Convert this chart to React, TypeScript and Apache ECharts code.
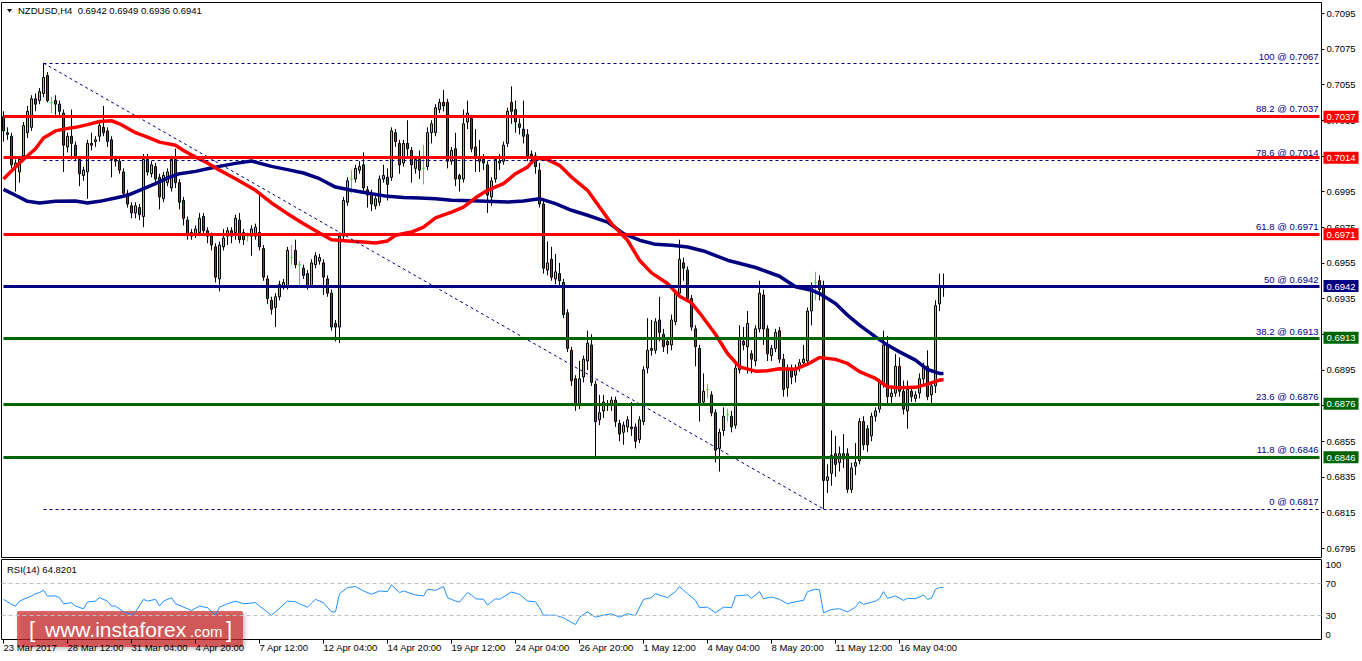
import React, { useEffect, useRef } from 'react';
import * as echarts from 'echarts';

// ---------------- data ----------------
const symbolTitle = 'NZDUSD,H4\u00a0 0.6942 0.6949 0.6936 0.6941';
const rsiTitle = 'RSI(14) 64.8201';
const firstTickLabel = '23 Mar 2017';
const watermarkParts = ['[', 'www.instaforex', '.com', ']'];

// H4 candles [open, close, low, high] in 1/10000 (e.g. 7037 = 0.7037)
const candles: number[][] = [
  [7037,7029,7023,7040],[7028,7027,7024,7031],[7026,7010,7008,7028],[7009,7011,6995,7013],[7006,7013,7000,7015],
  [7015,7032,7013,7034],[7028,7040,7025,7043],[7031,7047,7029,7049],[7047,7044,7040,7050],[7046,7051,7044,7053],
  [7050,7059,7048,7067],[7060,7046,7045,7062],[7045,7045,7039,7048],[7046,7044,7038,7049],[7044,7040,7038,7046],
  [7039,7021,7006,7041],[7020,7026,7017,7028],[7026,7022,7013,7041],[7021,7015,7012,7023],[7013,7005,6998,7015],
  [7004,7007,7001,7009],[7006,7022,6991,7024],[7022,7021,7018,7028],[7023,7024,7020,7026],[7026,7032,7023,7034],
  [7031,7028,7026,7043],[7029,7023,7020,7031],[7024,7013,7003,7026],[7013,7012,7009,7015],[7012,7007,7005,7014],
  [7006,6994,6992,7008],[6994,6988,6986,6996],[6987,6983,6980,6989],[6983,6987,6980,6989],[6986,6982,6979,6988],
  [6981,7013,6975,7016],[7013,7006,7004,7016],[7005,7010,7003,7012],[7009,7002,7000,7011],[7003,6992,6985,7005],
  [6991,7004,6989,7006],[7000,7006,6998,7008],[6997,7013,6995,7015],[7013,7000,6997,7019],[7000,6989,6985,7002],
  [6990,6980,6976,6992],[6979,6971,6968,6981],[6972,6970,6968,6974],[6971,6974,6969,6976],[6972,6980,6970,6983],
  [6981,6973,6970,6983],[6973,6970,6966,6975],[6970,6965,6962,6972],[6964,6947,6944,6966],[6946,6965,6939,6967],
  [6964,6969,6962,6974],[6970,6973,6965,6975],[6973,6970,6966,6975],[6972,6980,6968,6982],[6979,6968,6966,6983],
  [6972,6968,6965,6974],[6970,6970,6967,6972],[6970,6974,6959,6976],[6970,6975,6968,6977],[6972,6964,6962,6994],
  [6963,6947,6945,6965],[6946,6935,6932,6948],[6934,6929,6926,6936],[6930,6936,6919,6938],[6936,6943,6934,6945],
  [6942,6944,6940,6946],[6942,6962,6940,6964],[6958,6958,6954,6965],[6962,6954,6952,6968],[6954,6954,6942,6956],
  [6952,6948,6946,6954],[6949,6942,6940,6951],[6942,6955,6941,6957],[6954,6959,6952,6961],[6956,6958,6954,6960],
  [6955,6947,6937,6957],[6946,6938,6936,6948],[6938,6919,6917,6940],[6921,6919,6911,6923],[6919,6970,6910,6972],
  [6970,6990,6968,6992],[6989,7001,6987,7003],[7002,7002,6994,7007],[7002,7008,7000,7010],[7007,7009,7005,7012],
  [7010,6997,6995,7017],[6996,6993,6986,6998],[6994,6988,6984,6996],[6987,6991,6985,6993],[6989,7002,6987,7004],
  [7002,7004,7000,7010],[7003,6999,6990,7008],[7003,7029,7001,7031],[7028,7023,7020,7030],[7022,7010,7005,7024],
  [7011,7022,7009,7024],[7022,7019,7015,7035],[7018,7010,7000,7020],[7008,7013,7005,7015],[7013,7007,7002,7018],
  [7008,7008,6999,7021],[7009,7028,7007,7031],[7028,7033,7022,7035],[7028,7042,7026,7044],[7041,7045,7039,7047],
  [7045,7043,7040,7052],[7045,7012,7008,7047],[7012,7018,7010,7020],[7019,7002,6998,7028],[7004,7002,6995,7005],
  [7002,7033,7000,7041],[7034,7039,7030,7046],[7036,7019,7017,7038],[7020,7014,7006,7030],[7014,7012,7006,7024],
  [7013,7011,7007,7016],[7010,6993,6983,7012],[6992,7001,6987,7003],[7002,7013,7000,7015],[7011,7012,7007,7016],
  [7012,7021,7010,7023],[7022,7040,7020,7042],[7045,7040,7033,7054],[7041,7034,7028,7046],[7033,7031,7027,7036],
  [7030,7026,7022,7046],[7027,7015,7012,7030],[7016,7015,7012,7018],[7015,7009,7005,7017],[7007,6988,6986,7011],
  [6988,6952,6949,6990],[6951,6955,6948,6967],[6957,6947,6945,6964],[6946,6950,6943,6960],[6949,6945,6942,6955],
  [6944,6926,6924,6946],[6927,6907,6905,6929],[6906,6889,6886,6908],[6890,6875,6872,6892],[6875,6890,6873,6900],
  [6891,6901,6888,6903],[6900,6910,6895,6917],[6909,6888,6886,6915],[6887,6866,6846,6889],[6867,6871,6864,6881],
  [6872,6877,6868,6881],[6876,6875,6872,6878],[6875,6878,6872,6880],[6878,6866,6863,6880],[6865,6859,6855,6867],
  [6860,6864,6853,6866],[6863,6867,6860,6869],[6863,6862,6858,6877],[6863,6855,6851,6865],[6856,6867,6854,6869],
  [6866,6895,6864,6897],[6896,6906,6893,6924],[6907,6906,6903,6923],[6906,6922,6904,6924],[6923,6916,6911,6936],
  [6915,6908,6905,6918],[6911,6909,6904,6913],[6909,6923,6906,6926],[6922,6938,6920,6940],[6938,6957,6936,6968],
  [6955,6952,6945,6958],[6951,6935,6933,6953],[6935,6919,6917,6937],[6918,6908,6897,6920],[6907,6876,6866,6909],
  [6877,6883,6876,6893],[6884,6884,6879,6887],[6881,6871,6869,6883],[6871,6850,6843,6873],[6851,6860,6838,6862],
  [6861,6869,6858,6874],[6870,6870,6866,6873],[6869,6863,6860,6872],[6864,6896,6862,6898],[6895,6912,6893,6920],
  [6911,6909,6906,6919],[6908,6921,6893,6928],[6904,6901,6893,6906],[6900,6918,6897,6920],[6918,6938,6916,6945],
  [6937,6918,6909,6940],[6918,6904,6900,6920],[6903,6907,6900,6909],[6907,6916,6905,6918],[6917,6901,6899,6919],
  [6901,6884,6880,6904],[6885,6896,6880,6898],[6896,6891,6887,6898],[6892,6896,6888,6898],[6897,6899,6894,6901],
  [6899,6901,6897,6909],[6900,6928,6898,6930],[6928,6942,6920,6944],[6944,6944,6934,6950],[6945,6940,6934,6948],
  [6942,6833,6817,6945],[6833,6835,6826,6842],[6837,6847,6830,6861],[6848,6842,6835,6858],[6843,6848,6838,6852],
  [6848,6845,6840,6859],[6848,6828,6826,6851],[6828,6840,6826,6843],[6841,6843,6836,6854],[6844,6866,6842,6868],
  [6866,6853,6850,6869],[6862,6853,6849,6864],[6858,6869,6855,6871],[6869,6872,6866,6874],[6873,6888,6871,6890],
  [6888,6909,6885,6917],[6909,6880,6876,6914],[6880,6882,6876,6886],[6882,6897,6880,6904],[6897,6883,6880,6902],
  [6883,6873,6870,6889],[6872,6884,6862,6889],[6883,6880,6877,6886],[6879,6881,6877,6883],[6882,6890,6879,6893],
  [6890,6897,6887,6899],[6897,6880,6878,6906],[6881,6886,6876,6888],[6886,6931,6882,6934],[6932,6942,6928,6949],
  [6942,6941,6936,6949],
];
const dojiBars = [12, 61, 72, 74, 87, 105, 176, 181, 203];

// moving averages: [bar index, value in 1/10000]
const fastMA: number[][] = [
  [0,7002],[4,7011],[8,7019],[10,7025],[13,7029],[15,7030],[18,7031],[21,7032.5],[24,7034.3],[27,7034.7],
  [29,7033],[33,7028],[36,7025.5],[39,7022.7],[43,7021],[45,7018],[48,7014.3],[51,7011],[54,7007],[58,7002.2],
  [63,6995.7],[67,6988.6],[71,6982.6],[75,6977],[79,6971.8],[82,6968],[87,6967.1],[90,6966.7],[93,6966.2],[96,6967.3],
  [98,6970.5],[102,6972.3],[105,6975.1],[108,6980.2],[112,6983.5],[115,6986.3],[118,6991.5],[121,6995.7],[125,6999.4],[128,7005],
  [131,7008.7],[133,7013.8],[136,7012.9],[139,7009.7],[142,7003.1],[146,6995.7],[149,6986.3],[152,6977],[156,6967.7],[159,6956.5],
  [162,6949.4],[166,6943.4],[169,6936.3],[172,6932.6],[174,6927],[176,6921],[178,6915],[181,6904.2],[184,6896.7],[188,6894.3],
  [191,6894.5],[194,6895.6],[198,6895.4],[201,6898.2],[204,6902],[208,6900.9],[211,6898.6],[214,6894],[218,6890.2],[221,6885.5],
  [224,6885],[228,6885.2],[231,6887],[234,6889.3],[235,6889.5],
];
const slowMA: number[][] = [
  [0,6996.2],[3,6992.9],[6,6989.5],[9,6988.6],[13,6989.5],[18,6989.7],[21,6988.6],[24,6989.5],[28,6991.4],[31,6992.9],
  [34,6995.7],[38,6999.4],[41,7002.6],[44,7005],[48,7006.3],[51,7007.8],[54,7009.1],[58,7010.8],[62,7012.1],[67,7009.1],
  [71,7007.3],[75,7005.4],[79,7002.2],[83,6997.5],[87,6995.7],[92,6993.8],[96,6992.3],[100,6991.6],[104,6991.4],[108,6991],
  [112,6990.1],[117,6989.8],[126,6989.1],[130,6989.7],[134,6991],[138,6988.2],[142,6984.5],[146,6981.7],[151,6977.9],[155,6971.4],
  [159,6967.7],[163,6965.4],[167,6964.9],[171,6963.9],[175,6961.7],[181,6956.5],[188,6952.4],[194,6947.5],[198,6941.6],[202,6939.7],
  [204,6937.8],[208,6932.2],[211,6925.7],[214,6920.1],[218,6913.5],[221,6908.9],[224,6905.1],[228,6900.5],[231,6895.2],[234,6893],
  [235,6893],
];

// RSI(14): [bar index, value]
const rsiPoints: number[][] = [
  [0,50.2],[2,43.9],[3,41.8],[4,48],[6,52.3],[7,54.4],[8,57.3],[9,58.6],[10,61.5],[11,54.4],
  [13,54.4],[14,52.3],[15,44.7],[17,46],[18,41.8],[20,38.4],[21,46.8],[23,48],[24,52.3],[26,48],
  [27,41.8],[28,41.8],[30,34.6],[32,31.3],[33,34.6],[35,50.2],[36,48],[38,50.2],[39,41.8],[40,48],
  [42,52.3],[43,44.7],[45,40.5],[47,36.3],[49,41.8],[51,39.7],[53,30.4],[54,40.5],[56,44.7],[58,48],
  [60,44.7],[63,46],[64,41.8],[67,30.4],[68,34.6],[71,48],[73,47.2],[74,44.7],[76,40.5],[78,50.2],
  [80,46],[82,34.6],[83,34.6],[84,57.3],[86,64.9],[88,66.2],[90,60.7],[92,56.5],[94,60.7],[96,59.9],
  [97,68.3],[99,58.6],[100,60.7],[103,55.7],[105,54.4],[106,62.8],[108,61.5],[110,66.2],[111,52.3],[113,48],
  [114,46.8],[116,58.6],[117,55.7],[118,51],[120,50.2],[121,43],[123,51],[124,50.2],[127,59.4],[129,56.5],
  [131,48],[133,47.2],[134,39.7],[135,30.4],[138,30.4],[140,27.1],[143,18.6],[144,27.9],[146,34.6],[148,27.9],
  [150,30.4],[152,32.1],[154,27.9],[156,32.1],[158,30],[160,50.2],[162,52.3],[163,57.3],[166,52.3],[168,59.9],
  [169,66.2],[171,57.3],[173,48.9],[174,39.7],[176,40.5],[178,33.4],[180,40.5],[182,39.7],[183,54.4],[186,55.7],
  [187,51.5],[189,59.9],[190,51],[192,53.1],[194,50.2],[196,44.7],[198,47.2],[200,48.9],[201,59.9],[203,62.8],
  [204,62],[205,33.4],[207,37.6],[209,38.4],[211,34.6],[213,40.5],[214,47.2],[215,43.9],[218,48],[219,51],
  [220,59.9],[221,51.5],[223,54.4],[225,48.9],[226,51.5],[228,51],[230,55.7],[231,50.2],[232,51.5],[233,62.8],
  [234,64.9],[235,64.8],
];
const rsiLevels = [70, 30];
const rsiTicks = [0, 30, 70, 100];

// horizontal support / resistance levels
const levelPrices = [0.7037, 0.7014, 0.6971, 0.6942, 0.6913, 0.6876, 0.6846];
// fibonacci retracement (labels, displayed price, and where the dotted level sits)
const fibPercents = ['100', '88.2', '78.6', '61.8', '50', '38.2', '23.6', '11.8', '0'];
const fibPrices = [0.7067, 0.7037, 0.7014, 0.6971, 0.6942, 0.6913, 0.6876, 0.6846, 0.6817];
const fibLineLevels = [0.7067, 0.70375, 0.70128, 0.69715, 0.6942, 0.69125, 0.6876, 0.68465, 0.6817];
const fibHighBar = 10;
const fibLowBar = 205;

const priceTicks = [0.7095, 0.7075, 0.7055, 0.7035, 0.7015, 0.6995, 0.6975, 0.6955, 0.6935, 0.6915,
  0.6895, 0.6875, 0.6855, 0.6835, 0.6815, 0.6795];
const priceMin = 0.67898;
const priceMax = 0.7101;

const startTimeUTC = Date.UTC(2017, 2, 23, 20);
const totalSlots = 330;
const labelEvery = 16;
const monthNames = ['Jan','Feb','Mar','Apr','May','Jun','Jul','Aug','Sep','Oct','Nov','Dec'];

// ---------------- styles ----------------
const FONT = '"Liberation Sans", Arial, sans-serif';
const FS = 9.5;
const RED = '#FF0000';
const NAVY = '#000080';
const GREEN = '#006400';
const levelColors = [RED, RED, RED, NAVY, GREEN, GREEN, GREEN];

function buildCategories(): string[] {
  const out: string[] = [];
  let t = startTimeUTC;
  while (out.length < totalSlots) {
    const d = new Date(t);
    const wd = d.getUTCDay();
    if (wd !== 0 && wd !== 6) {
      const hh = String(d.getUTCHours()).padStart(2, '0');
      out.push(`${d.getUTCDate()} ${monthNames[d.getUTCMonth()]} ${hh}:00`);
    }
    t += 4 * 3600 * 1000;
  }
  return out;
}

function buildOption() {
  const categories = buildCategories();
  const lastBar = candles.length - 1;
  const lastSlot = totalSlots - 1;
  const showTick = (idx: number) => idx % labelEvery === 0 && idx <= lastBar;

  const candleItems = candles.map((c, i) => {
    const v = c.map((x) => x / 10000);
    if (dojiBars.includes(i)) {
      return {
        value: v,
        itemStyle: { color: '#00FF00', color0: '#00FF00', borderColor: '#00FF00', borderColor0: '#00FF00', borderColorDoji: '#00FF00' },
      };
    }
    return v;
  });

  const fibLineStyle = { color: NAVY, width: 1, type: [3, 3] as any };
  const markData: any[] = [];
  fibLineLevels.forEach((p, k) => {
    markData.push([
      {
        coord: [fibHighBar, p],
        lineStyle: fibLineStyle,
        label: {
          show: true,
          position: 'insideEndTop',
          formatter: `${fibPercents[k]} @ ${fibPrices[k].toFixed(4)}`,
          color: NAVY,
          fontSize: FS,
          fontFamily: FONT,
          distance: [1, 2],
        },
      },
      { coord: [lastSlot, p] },
    ]);
  });
  markData.push([
    { coord: [fibHighBar, fibLineLevels[0]], lineStyle: fibLineStyle, label: { show: false } },
    { coord: [fibLowBar, fibLineLevels[fibLineLevels.length - 1]] },
  ]);
  levelPrices.forEach((p, k) => {
    markData.push([
      {
        coord: [0, p],
        lineStyle: { color: levelColors[k], width: 3, type: 'solid' },
        label: {
          show: true,
          position: 'end',
          formatter: p.toFixed(4),
          color: '#fff',
          backgroundColor: levelColors[k],
          padding: [1, 3, 0, 3],
          lineHeight: 11,
          fontSize: FS,
          fontFamily: FONT,
          distance: 4,
        },
      },
      { coord: [lastSlot, p] },
    ]);
  });

  const gridLeft = 1.5;
  const gridRight = 40.5;

  return {
    animation: false,
    backgroundColor: '#fff',
    textStyle: { fontFamily: FONT },
    grid: [
      { left: gridLeft, right: gridRight, top: 2.5, height: 555, show: true, borderColor: '#000', borderWidth: 1, outerBoundsMode: 'none' },
      { left: gridLeft, right: gridRight, top: 559.5, height: 80, show: true, borderColor: '#000', borderWidth: 1, outerBoundsMode: 'none' },
    ],
    xAxis: [
      { type: 'category', gridIndex: 0, data: categories, boundaryGap: true, show: false },
      {
        type: 'category',
        gridIndex: 1,
        data: categories,
        boundaryGap: true,
        axisLine: { show: false },
        axisTick: { show: true, alignWithLabel: true, interval: (i: number) => showTick(i), length: 4, lineStyle: { color: '#000' } },
        axisLabel: {
          show: true,
          interval: (i: number) => showTick(i),
          formatter: (val: string, i: number) => (i === 0 ? firstTickLabel : val),
          align: 'left',
          margin: 3,
          color: '#000',
          fontSize: FS,
          fontFamily: FONT,
        },
        splitLine: { show: false },
      },
    ],
    yAxis: [
      {
        type: 'value',
        gridIndex: 0,
        position: 'right',
        min: priceMin,
        max: priceMax,
        splitLine: { show: false },
        axisLine: { show: false },
        axisTick: { show: true, customValues: priceTicks, length: 3, lineStyle: { color: '#000' } },
        axisLabel: {
          customValues: priceTicks,
          formatter: (v: number) => v.toFixed(4),
          color: '#000',
          fontSize: FS,
          fontFamily: FONT,
          margin: 5,
        },
      },
      {
        type: 'value',
        gridIndex: 1,
        position: 'right',
        min: 0,
        max: 100,
        splitLine: { show: false },
        axisLine: { show: false },
        axisTick: { show: false },
        axisLabel: {
          customValues: rsiTicks,
          color: '#000',
          fontSize: FS,
          fontFamily: FONT,
          margin: 4,
          verticalAlignMinLabel: 'bottom',
          verticalAlignMaxLabel: 'top',
        },
      },
    ],
    graphic: [
      { type: 'polygon', shape: { points: [[7, 9], [12, 9], [9.5, 12.5]] }, style: { fill: '#000' }, silent: true },
      { type: 'text', x: 18, y: 10, style: { text: symbolTitle, fill: '#000', font: `${FS}px ${FONT}`, textVerticalAlign: 'middle', verticalAlign: 'middle' } },
      { type: 'text', x: 7, y: 569, style: { text: rsiTitle, fill: '#000', font: `${FS}px ${FONT}`, textVerticalAlign: 'middle', verticalAlign: 'middle' } },
      {
        type: 'group',
        z: 100,
        children: [
          {
            type: 'rect',
            shape: { x: 17, y: 611, width: 226, height: 36, r: 2 },
            style: { fill: 'rgba(204,32,32,0.68)', shadowBlur: 4, shadowColor: 'rgba(0,0,0,0.35)', shadowOffsetX: 2, shadowOffsetY: 2 },
          },
          { type: 'text', x: 29, y: 629.5, style: { text: watermarkParts[0], fill: '#fff', font: `22px ${FONT}`, textVerticalAlign: 'middle', verticalAlign: 'middle' } },
          { type: 'text', x: 45, y: 629.5, style: { text: watermarkParts[1], fill: '#fff', font: `21px ${FONT}`, textVerticalAlign: 'middle', verticalAlign: 'middle' } },
          { type: 'text', x: 190, y: 631.5, style: { text: watermarkParts[2], fill: '#fff', font: `15px ${FONT}`, textVerticalAlign: 'middle', verticalAlign: 'middle' } },
          { type: 'text', x: 226, y: 629.5, style: { text: watermarkParts[3], fill: '#fff', font: `22px ${FONT}`, textVerticalAlign: 'middle', verticalAlign: 'middle' } },
        ],
      },
    ],
    series: [
      {
        type: 'candlestick',
        xAxisIndex: 0,
        yAxisIndex: 0,
        data: candleItems,
        barWidth: 2,
        itemStyle: {
          color: '#9ACD32',
          color0: '#FF0000',
          borderColor: '#000',
          borderColor0: '#000',
          borderColorDoji: '#00FF00',
          borderWidth: 1,
        },
        z: 2,
      },
      {
        type: 'line',
        xAxisIndex: 0,
        yAxisIndex: 0,
        data: slowMA.map(([i, v]) => [i, v / 10000]),
        symbol: 'none',
        smooth: false,
        lineStyle: { color: NAVY, width: 3.5 },
        z: 3,
      },
      {
        type: 'line',
        xAxisIndex: 0,
        yAxisIndex: 0,
        data: fastMA.map(([i, v]) => [i, v / 10000]),
        symbol: 'none',
        smooth: false,
        lineStyle: { color: RED, width: 3.5 },
        z: 3,
        markLine: { silent: true, symbol: ['none', 'none'], animation: false, data: markData },
      },
      {
        type: 'line',
        xAxisIndex: 1,
        yAxisIndex: 1,
        data: rsiPoints,
        symbol: 'none',
        lineStyle: { color: '#1E90FF', width: 1 },
        markLine: {
          silent: true,
          symbol: ['none', 'none'],
          label: { show: false },
          lineStyle: { color: '#C0C0C0', type: [4, 3], width: 1 },
          data: rsiLevels.map((v) => ({ yAxis: v })),
        },
      },
    ],
  };
}

export default function App() {
  const ref = useRef<HTMLDivElement>(null);
  useEffect(() => {
    document.body.style.margin = '0';
    const chart = echarts.init(ref.current as HTMLDivElement, null, { renderer: 'svg' });
    chart.setOption(buildOption() as any);
    return () => chart.dispose();
  }, []);
  return (
    <div
      ref={ref}
      style={{ position: 'fixed', left: 0, top: 0, width: 1362, height: 661, background: '#fff' }}
    />
  );
}
